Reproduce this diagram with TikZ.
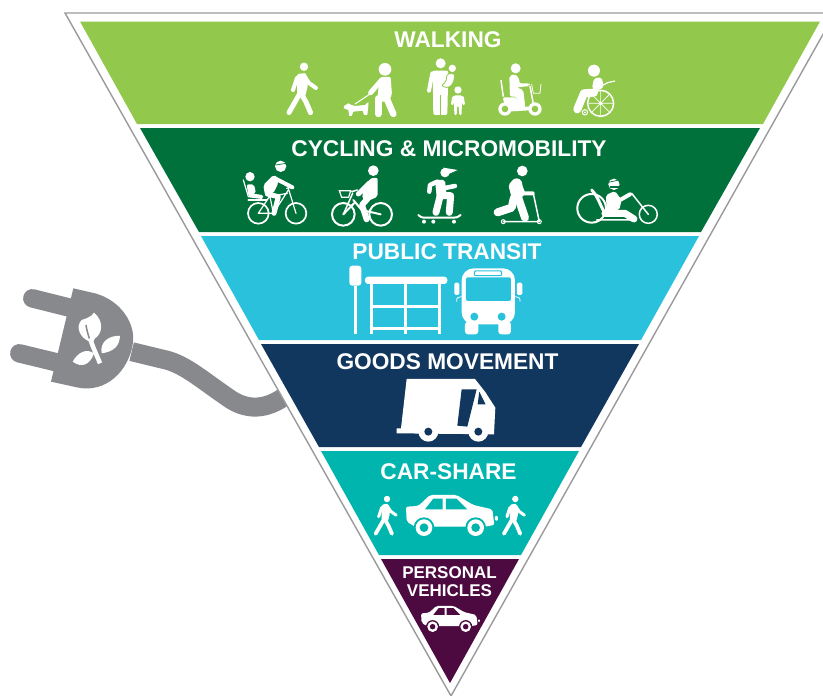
\documentclass[tikz,border=0pt]{standalone}
\usepackage{fontspec}
\setmainfont{Liberation Sans}
\definecolor{walkgreen}{HTML}{92C94D}
\definecolor{cyclegreen}{HTML}{00713A}
\definecolor{transitblue}{HTML}{2AC1DC}
\definecolor{goodsnavy}{HTML}{12375E}
\definecolor{shareteal}{HTML}{00B5AD}
\definecolor{vehicleplum}{HTML}{4D0A41}
\definecolor{plugrey}{HTML}{87898D}
\definecolor{edgegrey}{HTML}{9A9A9C}

\begin{document}
\begin{tikzpicture}[
    x=1pt, y=-1pt,
    bandlabel/.style={text=white, inner sep=0pt, font=\fontsize{22.7}{24}\selectfont\bfseries},
    smalllabel/.style={text=white, inner sep=0pt, align=center, font=\fontsize{17}{18}\selectfont\bfseries},
    wline/.style={draw=white, line cap=round, line join=round},
    walkzone/.style={shift={(240,0)}, x=.3333pt, y=-.3333pt},
    cyclezone/.style={shift={(230,125)}, x=.3333pt, y=-.3333pt},
    pluszone/.style={shift={(340,235)}, x=.3333pt, y=-.3333pt},
    carzone/.style={shift={(360,450)}, x=.3333pt, y=-.3333pt},
    plugzone/.style={shift={(0,270)}, x=.3333pt, y=-.3333pt},
    pics/walker/.style={code={
        \begin{scope}[scale=#1]
        \fill[white] (0,-48.3) circle[radius=4.2];
        \fill[white, rounded corners=1.5pt] (-7,-41) -- (2,-42) -- (4,-30) -- (1,-18) -- (-7,-18) -- cycle;
        \draw[wline, line width=#1*5pt] (-5,-20) -- (-15,-2.5);
        \draw[wline, line width=#1*5pt] (-2,-20) -- (2,-13) -- (6.5,-2.5);
        \draw[wline, line width=#1*4pt] (-7,-37) -- (-11,-25);
        \draw[wline, line width=#1*4pt] (1,-38) -- (5,-32) -- (12,-27);
        \end{scope}
    }},
    pics/sedan/.style={code={
        \fill[white, rounded corners=2pt] (138,170) -- (175,168) -- (210,135) -- (290,135) -- (340,165) -- (397,178) -- (403,225) -- (375,230) -- (165,230) -- (140,215) -- cycle;
        \fill[#1] (195,178) -- (220,146) -- (248,146) -- (248,178) -- cycle;
        \fill[#1] (258,146) -- (290,146) -- (322,178) -- (258,178) -- cycle;
        \fill[#1] (192,233) circle[radius=31];
        \fill[#1] (347,233) circle[radius=31];
        \fill[white] (192,233) circle[radius=25];
        \fill[white] (347,233) circle[radius=25];
        \fill[#1] (192,233) circle[radius=13];
        \fill[#1] (347,233) circle[radius=13];
        \fill[white, rounded corners=1pt] (405,198) rectangle (414,212);
    }}
]
\useasboundingbox (0,0) rectangle (823,696);

% Plug and cable
\begin{scope}[plugzone]
   \draw[plugrey, line width=19pt] (395,245) -- (490,268) .. controls (550,280) and (600,325) .. (680,380) .. controls (740,425) and (800,420) .. (860,375);
   \draw[plugrey, line width=18.5pt, line cap=round] (97,85) -- (225,117);
   \draw[plugrey, line width=18.5pt, line cap=round] (58,250) -- (190,282);
   \fill[plugrey] (220,55) -- (285,70) .. controls (360,90) and (410,160) .. (398,225) .. controls (385,300) and (320,372) .. (230,352) -- (153,335) -- cycle;
   % leaves
   \fill[white] (282,128) .. controls (310,150) and (310,190) .. (285,205) .. controls (280,215) and (275,225) .. (270,215) .. controls (240,205) and (225,170) .. (245,150) .. controls (260,145) and (275,140) .. (282,128) -- cycle;
   \fill[white] (305,250) .. controls (298,215) and (330,195) .. (360,198) .. controls (358,230) and (340,245) .. (305,250) -- cycle;
   \fill[white] (218,275) .. controls (235,245) and (260,235) .. (282,250) .. controls (270,285) and (245,295) .. (218,275) -- cycle;
   \draw[plugrey, line width=1.5pt] (258,165) .. controls (262,190) and (268,205) .. (275,225);
   \draw[white, line width=4.5pt] (270,205) .. controls (280,235) and (290,255) .. (300,280);
\end{scope}

% Outer triangle
\draw[edgegrey, line width=1.4pt, fill=white] (65,13) -- (835,13) -- (451,696) -- cycle;

% Bands
\fill[walkgreen] (80,21.5) -- (820,21.5) -- (763,124) -- (137,124) -- cycle;
\fill[cyclegreen] (140,128) -- (760,128) -- (701,232) -- (199,232) -- cycle;
\fill[transitblue] (201,236) -- (699,236) -- (641,340) -- (259,340) -- cycle;
\fill[goodsnavy] (261,344) -- (639,344) -- (581,447) -- (319,447) -- cycle;
\fill[shareteal] (321,451) -- (579,451) -- (521,555) -- (379,555) -- cycle;
\fill[vehicleplum] (381,559) -- (519,559) -- (450,683) -- cycle;

% Labels
\node[bandlabel] (walking) at (448,40) {WALKING};
\node[bandlabel] (cycling) at (449,149) {CYCLING \& MICROMOBILITY};
\node[bandlabel] (transit) at (447,251.5) {PUBLIC TRANSIT};
\node[bandlabel] (goods) at (447.5,362) {GOODS MOVEMENT};
\node[bandlabel] (carshare) at (448.5,471.5) {CAR-SHARE};
\node[smalllabel] (personal) at (449.5,582) {PERSONAL\\VEHICLES};

% Walking icons
\pic at (304,115) {walker=1};
\begin{scope}[walkzone]
   % dog walker
   \fill[white] (435,208) circle[radius=19];
   \fill[white, rounded corners=2pt] (418,232) -- (452,230) -- (456,285) -- (445,305) -- (412,305) -- cycle;
   \draw[wline, line width=6.5pt] (415,295) -- (415,342);
   \draw[wline, line width=6.5pt] (440,295) -- (460,342);
   \draw[wline, line width=5pt] (425,240) -- (392,278);
   \draw[white, line width=1pt] (390,282) -- (345,312);
   \fill[white] (312,318) -- (325,310) -- (335,315) -- (345,318) -- (375,315) -- (385,306) -- (385,318) -- (382,345) -- (372,345) -- (368,332) -- (340,335) -- (335,348) -- (328,348) -- (325,330) -- (312,325) -- cycle;
   % adult with two children
   \fill[white] (602,190) circle[radius=15];
   \fill[white, rounded corners=2pt] (578,212) -- (625,212) -- (622,345) -- (580,345) -- cycle;
   \draw[walkgreen, line width=1pt] (601,285) -- (601,346);
   \draw[wline, line width=4pt] (577,220) -- (567,272);
   \fill[white] (637,205) circle[radius=11];
   \fill[white, draw=walkgreen, line width=.8pt, rounded corners=2pt] (622,220) -- (645,222) -- (640,250) -- (625,264) -- (604,258) -- (618,245) -- cycle;
   \fill[white] (654,270) circle[radius=11];
   \fill[white, rounded corners=1pt] (642,286) -- (666,286) -- (665,345) -- (658,345) -- (656,318) -- (652,318) -- (650,345) -- (643,345) -- cycle;
   \draw[wline, line width=2.5pt] (640,292) -- (637,312);
   \draw[wline, line width=2.5pt] (668,292) -- (671,312);
   % mobility scooter
   \fill[white] (827,205) circle[radius=15];
   \fill[white, rounded corners=2pt] (808,228) -- (825,222) -- (838,235) -- (838,250) -- (870,250) -- (870,258) -- (830,262) -- (850,270) -- (856,322) -- (838,322) -- (830,290) -- (810,290) -- cycle;
   \draw[white, line width=1.5pt] (783,240) -- (790,290);
   \fill[white, rounded corners=2pt] (788,292) -- (830,292) -- (842,320) -- (878,320) -- (885,330) -- (800,335) -- cycle;
   \draw[white, line width=1.5pt] (870,258) -- (882,322);
   \draw[white, line width=.8pt] (875,252) -- (880,280) -- (900,280) -- (903,252);
   \fill[white] (795,327) circle[radius=20];
   \fill[white] (885,327) circle[radius=20];
   \fill[walkgreen] (795,327) circle[radius=10];
   \fill[walkgreen] (885,327) circle[radius=10];
   % wheelchair
   \fill[white] (1062,212) circle[radius=18];
   \draw[white, line width=1.5pt] (1082,310) circle[radius=39];
   \draw[white, line width=.7pt] (1045,310) -- (1119,310) (1082,273) -- (1082,347) (1056,284) -- (1108,336) (1056,336) -- (1108,284);
   \fill[white] (1082,310) circle[radius=5];
   \draw[wline, line width=8pt] (1012,328) -- (1032,280) -- (1062,278);
   \fill[white, rounded corners=2pt] (1062,235) -- (1085,232) -- (1092,262) -- (1070,272) -- (1056,266) -- cycle;
   \draw[white, line width=1.2pt] (1090,255) -- (1103,248) -- (1125,243);
   \draw[white, line width=1pt] (1035,337) circle[radius=8];
   \fill[white] (1035,337) circle[radius=3];
\end{scope}

% Cycling icons
\begin{scope}[cyclezone]
   % bike with child seat
   \draw[white, line width=1.7pt] (85,265) circle[radius=31];
   \draw[white, line width=1.7pt] (198,265) circle[radius=31];
   \draw[wline, line width=1.2pt] (85,265) -- (130,265) -- (118,205) (85,265) -- (118,215) -- (172,205) (130,265) -- (175,195) (175,190) -- (198,265) (170,190) -- (188,185);
   \draw[wline, line width=1.8pt] (55,225) -- (110,225);
   \draw[wline, line width=1.2pt] (40,165) -- (55,215) -- (95,220);
   \fill[white] (152,124) circle[radius=17];
   \draw[cyclegreen, line width=.7pt] (138,120) -- (168,115);
   \fill[white, rounded corners=2pt] (100,180) -- (130,150) -- (142,155) -- (145,175) -- (130,205) -- (105,210) -- cycle;
   \draw[wline, line width=4pt] (135,160) -- (187,187);
   \draw[wline, line width=5pt] (112,207) -- (145,215) -- (132,265);
   \fill[white] (60,155) circle[radius=14];
   \fill[white, rounded corners=2pt] (50,178) -- (72,178) -- (78,205) -- (55,212) -- cycle;
   \draw[wline, line width=3.5pt] (60,210) -- (95,215);
   % bike with basket
   \draw[white, line width=2pt] (340,268) circle[radius=34];
   \draw[white, line width=2pt] (452,268) circle[radius=34];
   \draw[wline, line width=1.5pt] (368,205) -- (340,268) (365,200) -- (382,195);
   \draw[wline, line width=2pt] (340,268) -- (372,235) (370,225) -- (395,255) -- (452,268);
   \draw[white, line width=1.2pt] (328,197) -- (362,197) -- (356,217) -- (335,217) -- cycle;
   \fill[white] (430,137) circle[radius=16];
   \fill[white, rounded corners=2pt] (395,210) -- (420,160) -- (443,158) -- (443,215) -- (405,232) -- cycle;
   \draw[wline, line width=5pt] (417,175) -- (385,207);
   \draw[wline, line width=6pt] (412,222) -- (396,240) -- (410,283);
   % skateboard
   \fill[white] (645,143) circle[radius=14];
   \fill[white] (640,128) -- (683,135) -- (660,145) -- (645,152) -- cycle;
   \fill[white, rounded corners=2pt] (615,165) -- (645,165) -- (650,210) -- (620,215) -- cycle;
   \draw[wline, line width=4.5pt] (622,170) -- (600,180) -- (598,200);
   \draw[wline, line width=4.5pt] (640,190) -- (675,183);
   \draw[wline, line width=7pt] (630,212) -- (662,212) -- (658,262);
   \draw[wline, line width=7pt] (630,215) -- (618,262);
   \draw[wline, line width=2pt] (565,270) .. controls (575,278) .. (590,278) -- (670,278) .. controls (680,278) .. (692,270);
   \fill[white] (582,290) circle[radius=6];
   \fill[white] (610,290) circle[radius=6];
   \fill[white] (672,290) circle[radius=6];
   % kick scooter
   \fill[white] (877,138) circle[radius=16];
   \fill[white, rounded corners=2pt] (835,180) -- (855,158) -- (875,165) -- (882,215) -- (845,218) -- cycle;
   \draw[wline, line width=4pt] (868,175) -- (880,205) -- (908,205);
   \draw[wline, line width=8pt] (862,210) -- (885,278);
   \draw[wline, line width=8pt] (852,218) -- (845,248) -- (803,262);
   \draw[wline, line width=1.5pt] (910,205) -- (928,290) -- (820,290);
   \draw[white, line width=1pt] (820,290) circle[radius=6];
   \draw[white, line width=1pt] (928,290) circle[radius=6];
   % recumbent bike
   \draw[white, line width=2pt] (1085,250) circle[radius=43];
   \draw[white, line width=1.5pt] (1255,268) circle[radius=27];
   \fill[white] (1152,178) circle[radius=17];
   \fill[cyclegreen] (1140,183) rectangle (1172,190);
   \draw[cyclegreen, line width=.7pt] (1135,172) -- (1168,165);
   \fill[white, rounded corners=2pt] (1128,210) -- (1155,198) -- (1175,225) -- (1168,255) -- (1130,260) -- cycle;
   \draw[wline, line width=4pt] (1165,228) -- (1200,208);
   \draw[wline, line width=3pt] (1085,195) .. controls (1105,215) and (1112,245) .. (1125,265);
   \draw[wline, line width=7pt] (1125,265) -- (1185,265) -- (1212,282);
   \draw[wline, line width=1.5pt] (1205,205) -- (1255,268) (1100,285) -- (1210,285);
\end{scope}

% Transit icons and truck
\begin{scope}[pluszone]
   \fill[white, rounded corners=3pt] (28,92) rectangle (64,152);
   \draw[white, line width=3pt] (46,152) -- (46,298);
   \fill[white, rounded corners=3pt] (75,125) rectangle (322,147);
   \draw[white, line width=3pt] (95,147) -- (95,297) (197,147) -- (197,297) (300,147) -- (300,297) (95,215) -- (300,215) (95,282) -- (300,282);
   % bus
   \fill[white, rounded corners=12pt] (365,268) -- (365,100) -- (525,100) -- (525,268) -- cycle;
   \fill[white, rounded corners=3pt] (375,260) rectangle (415,298);
   \fill[white, rounded corners=3pt] (475,260) rectangle (513,298);
   \fill[transitblue, rounded corners=2pt] (378,127) rectangle (513,198);
   \draw[transitblue, line width=1pt, rounded corners=1pt] (403,108) rectangle (485,122);
   \fill[transitblue] (403,245) circle[radius=12];
   \fill[transitblue] (485,245) circle[radius=12];
   \fill[white, rounded corners=1.5pt] (343,143) rectangle (358,180);
   \fill[white, rounded corners=1.5pt] (531,143) rectangle (547,180);
   \draw[white, line width=.8pt] (350,200) .. controls (350,188) .. (365,185) (540,200) .. controls (540,188) .. (525,185);
   % truck
   \fill[white] (200,432) -- (405,432) -- (435,470) -- (466,518) -- (462,598) -- (170,595) -- (170,580) -- (183,580) -- cycle;
   \fill[goodsnavy] (365,463) -- (410,463) -- (382,575) -- (352,572) -- cycle;
   \fill[goodsnavy] (418,470) -- (437,508) -- (413,508) -- cycle;
   \fill[white] (265,590) circle[radius=30];
   \fill[white] (415,590) circle[radius=30];
   \fill[goodsnavy] (265,590) circle[radius=12];
   \fill[goodsnavy] (415,590) circle[radius=12];
\end{scope}

% Car icons
\begin{scope}[carzone]
   \pic {sedan=shareteal};
   \begin{scope}[shift={(95,381)}, x=.2133pt, y=-.2133pt]
      \pic {sedan=vehicleplum};
   \end{scope}
\end{scope}
\pic at (387,535.7) {walker=.76};
\pic at (515.3,535.7) {walker=.76};
\end{tikzpicture}
\end{document}
